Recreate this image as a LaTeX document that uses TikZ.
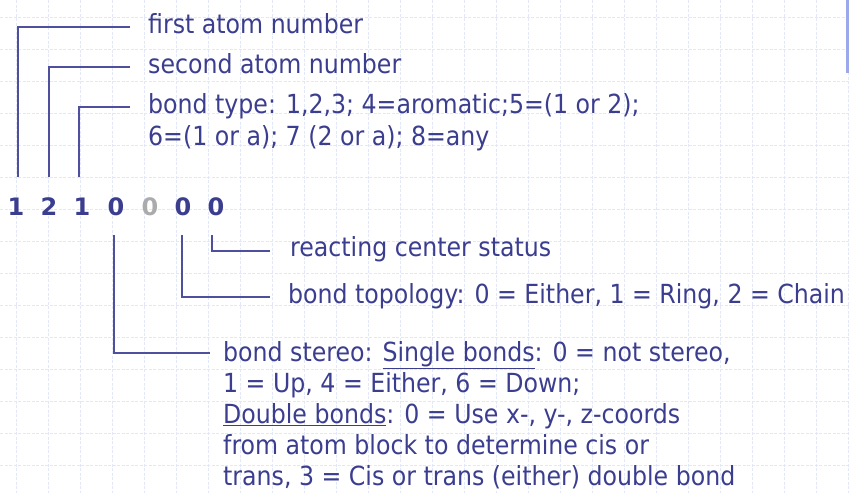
\documentclass[tikz,border=0pt]{standalone}
\usepackage{fontspec}
\setmainfont{DejaVu Sans Condensed}
\newfontfamily\digitfont{DejaVu Sans}
\usetikzlibrary{calc}
\definecolor{ink}{HTML}{3B3D8F}
\definecolor{wire}{HTML}{4E509E}
\definecolor{gridc}{HTML}{E3E8F8}
\definecolor{bar}{HTML}{9DA8EA}
\definecolor{greyd}{HTML}{ABABAB}
\tikzset{
  lbl/.style={anchor=base west, inner sep=0pt, text=ink, font=\fontsize{26.3}{31}\selectfont},
  dig/.style={anchor=base, inner sep=0pt, text=ink, font=\digitfont\fontsize{24}{26}\selectfont\bfseries},
  wireline/.style={draw=wire, line width=1.3pt},
  gridline/.style={draw=gridc, line width=0.6pt, dash pattern=on 3pt off 1.5pt}
}
\begin{document}
\begin{tikzpicture}[x=1pt,y=-1pt]
\useasboundingbox (0,0) rectangle (849,493);
\fill[white] (0,0) rectangle (849,493);
% grid
\foreach \gx in {16,48,...,848} \draw[gridline] (\gx,0) -- (\gx,493);
\foreach \gy in {17,49,...,493} \draw[gridline] (0,\gy) -- (849,\gy);
\fill[bar] (846,0) rectangle (849,73);
% digits
\node[dig] (d1) at (16,215) {1};
\node[dig] (d2) at (49,215) {2};
\node[dig] (d3) at (82,215) {1};
\node[dig] (d4) at (116,215) {0};
\node[dig, text=greyd] (d5) at (150,215) {0};
\node[dig] (d6) at (183,215) {0};
\node[dig] (d7) at (216,215) {0};
% labels
\node[lbl] (t1) at (148,33) {first atom number};
\node[lbl] (t2) at (148,73) {second atom number};
\node[lbl] (t3) at (148,113) {bond type: 1,2,3; 4=aromatic;5=(1 or 2);};
\node[lbl] (t3b) at (148,145) {6=(1 or a); 7 (2 or a); 8=any};
\node[lbl] (t7) at (290,256) {reacting center status};
\node[lbl] (t6) at (288,303) {bond topology: 0 = Either, 1 = Ring, 2 = Chain};
\node[lbl] (t4) at (223,361) {bond stereo: \underline{Single bonds}: 0 = not stereo,};
\node[lbl] (t4b) at (223,392) {1 = Up, 4 = Either, 6 = Down;};
\node[lbl] (t4c) at (223,423) {\underline{Double bonds}: 0 = Use x-, y-, z-coords};
\node[lbl] (t4d) at (223,454) {from atom block to determine cis or};
\node[lbl] (t4e) at (223,485) {trans, 3 = Cis or trans (either) double bond};
% connectors
\draw[wireline] ([xshift=2pt,yshift=38pt]d1.base) |- ([xshift=-18pt,yshift=6pt]t1.base west);
\draw[wireline] ([xshift=0pt,yshift=38pt]d2.base) |- ([xshift=-18pt,yshift=6pt]t2.base west);
\draw[wireline] ([xshift=-3pt,yshift=38pt]d3.base) |- ([xshift=-18pt,yshift=6pt]t3.base west);
\draw[wireline] ([xshift=-2pt,yshift=-20pt]d4.base) |- ([xshift=-13pt,yshift=8pt]t4.base west);
\draw[wireline] ([xshift=-1pt,yshift=-20pt]d6.base) |- ([xshift=-18pt,yshift=6pt]t6.base west);
\draw[wireline] ([xshift=-4pt,yshift=-20pt]d7.base) |- ([xshift=-20pt,yshift=5pt]t7.base west);
\end{tikzpicture}
\end{document}
